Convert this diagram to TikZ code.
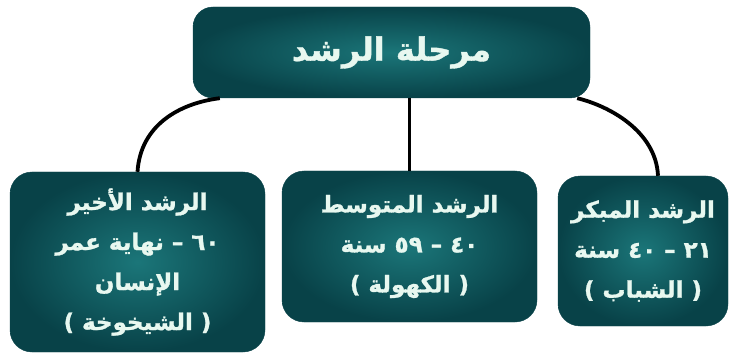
\documentclass[tikz,border=0pt]{standalone}
\usepackage{fontspec}
\usepackage{tikz}
\newfontfamily\arabicfont[Script=Arabic, BoldFeatures={FakeBold=1.2}]{DejaVu Sans}
\TeXXeTstate=1
\definecolor{stageteal}{RGB}{27,118,121}
\definecolor{stagedark}{RGB}{8,66,72}
\definecolor{stagetext}{RGB}{232,248,240}

\begin{document}
\begin{tikzpicture}[
    x=1pt, y=-1pt,
    stage/.style={rectangle, rounded corners=22pt, inner color=stageteal, outer color=stagedark, draw=stagedark, thin, text=stagetext, align=center, font=\arabicfont\bfseries\fontsize{23}{40}\selectfont},
    headbox/.style={stage, rounded corners=20pt, font=\arabicfont\bfseries\fontsize{32}{36}\selectfont},
    link/.style={line width=3.8pt, black}
]
    \useasboundingbox (0,0) rectangle (735,355);

    % Top node
    \node[headbox, minimum width=397pt, minimum height=91pt] (stage) at (391.5, 52.5) {\beginR مرحلة الرشد\endR};

    % Three stages
    \node[stage, minimum width=255pt, minimum height=180pt] (late) at (137.5, 262)
        {\beginR الرشد الأخير\endR\\ \beginR ٦٠ – نهاية عمر\endR\\ \beginR الإنسان\endR\\ \beginR( الشيخوخة )\endR};
    \node[stage, minimum width=255pt, minimum height=151pt] (middle) at (409.5, 246.5)
        {\beginR الرشد المتوسط\endR\\ \beginR ٤٠ – ٥٩ سنة\endR\\ \beginR( الكهولة )\endR};
    \node[stage, minimum width=170pt, minimum height=150pt] (early) at (643, 251)
        {\beginR الرشد المبكر\endR\\ \beginR ٢١ – ٤٠ سنة\endR\\ \beginR( الشباب )\endR};

    % Connectors
    \draw[link] ([xshift=27pt]stage.south west) .. controls +(-40,5) and +(3,-47) .. (late.north);
    \draw[link] (middle.north |- stage.south) -- (middle.north);
    \draw[link] ([xshift=-13pt]stage.south east) .. controls +(33,8) and +(-2,-44) .. ([xshift=15pt]early.north);
\end{tikzpicture}
\end{document}
